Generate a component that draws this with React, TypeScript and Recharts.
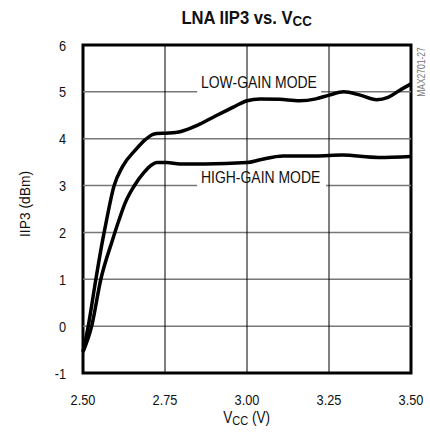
import React from "react";
import {
  LineChart,
  Line,
  XAxis,
  YAxis,
  ReferenceLine,
  ReferenceArea,
} from "recharts";

const lowGainVcc = [2.5, 2.516, 2.539, 2.56, 2.572, 2.594, 2.62, 2.66, 2.69, 2.709, 2.725, 2.76, 2.796, 2.85, 2.9, 2.96, 3.0, 3.04, 3.1, 3.16, 3.21, 3.25, 3.295, 3.345, 3.395, 3.43, 3.465, 3.5];
const lowGainIip3 = [-0.55, 0.0, 0.99, 1.84, 2.27, 2.98, 3.4, 3.76, 3.98, 4.08, 4.11, 4.12, 4.15, 4.29, 4.47, 4.68, 4.81, 4.85, 4.84, 4.81, 4.85, 4.93, 5.0, 4.93, 4.83, 4.88, 5.03, 5.17];

const highGainVcc = [2.5, 2.5265, 2.554, 2.59, 2.61, 2.628, 2.655, 2.686, 2.709, 2.725, 2.755, 2.796, 2.87, 3.0, 3.04, 3.11, 3.21, 3.29, 3.4, 3.5];
const highGainIip3 = [-0.55, 0.0, 0.99, 1.84, 2.27, 2.62, 2.98, 3.28, 3.44, 3.49, 3.49, 3.46, 3.46, 3.49, 3.55, 3.63, 3.63, 3.65, 3.6, 3.62];

const xTicks = [2.5, 2.75, 3.0, 3.25, 3.5];
const yTicks = [-1, 0, 1, 2, 3, 4, 5, 6];

const lowData = lowGainVcc.map((v, i) => ({ vcc: v, iip3: lowGainIip3[i] }));
const highData = highGainVcc.map((v, i) => ({ vcc: v, iip3: highGainIip3[i] }));

const FONT = "'Liberation Sans', Arial, sans-serif";
const GRID = "#777";

// narrow Helvetica look: Liberation Sans squeezed horizontally
const XTick = ({ x, payload }: any) => (
  <text transform={`translate(${x},405) scale(0.85,1)`} textAnchor="middle" fontSize={15} fontFamily={FONT} fill="#111">
    {Number(payload.value).toFixed(2)}
  </text>
);

const YTick = ({ y, payload }: any) => (
  <text transform={`translate(66,${y + 5.5}) scale(0.85,1)`} textAnchor="end" fontSize={15} fontFamily={FONT} fill="#111">
    {payload.value}
  </text>
);

const narrow = (sx: number, origin = "left center"): React.CSSProperties => ({
  display: "inline-block",
  transform: `scaleX(${sx})`,
  transformOrigin: origin,
  whiteSpace: "nowrap",
});

export default function App() {
  return (
    <div style={{ position: "absolute", left: 0, top: 0, width: 430, height: 432, background: "#fff", fontFamily: FONT, color: "#111" }}>
      <LineChart width={430} height={432} margin={{ top: 45, right: 19, bottom: 29, left: 43 }}>
        <XAxis
          type="number"
          dataKey="vcc"
          domain={[2.5, 3.5]}
          ticks={xTicks}
          tick={<XTick />}
          tickLine={false}
          axisLine={false}
          height={30}
          allowDuplicatedCategory={false}
        />
        <YAxis
          type="number"
          dataKey="iip3"
          domain={[-1, 6]}
          ticks={yTicks}
          tick={<YTick />}
          tickLine={false}
          axisLine={false}
          width={40}
        />

        {/* horizontal grid, broken where the mode labels sit */}
        {[0, 1, 2, 4].map((y) => (
          <ReferenceLine key={y} y={y} stroke={GRID} strokeWidth={1.5} />
        ))}
        <ReferenceLine segment={[{ x: 2.5, y: 5 }, { x: 2.848, y: 5 }]} stroke={GRID} strokeWidth={1.5} />
        <ReferenceLine segment={[{ x: 3.226, y: 5 }, { x: 3.5, y: 5 }]} stroke={GRID} strokeWidth={1.5} />
        <ReferenceLine segment={[{ x: 2.5, y: 3 }, { x: 2.848, y: 3 }]} stroke={GRID} strokeWidth={1.5} />
        <ReferenceLine segment={[{ x: 3.241, y: 3 }, { x: 3.5, y: 3 }]} stroke={GRID} strokeWidth={1.5} />

        {[2.75, 3.0, 3.25].map((x) => (
          <ReferenceLine key={x} x={x} stroke="#000" strokeWidth={1} />
        ))}

        <Line data={lowData} dataKey="iip3" type="monotone" stroke="#000" strokeWidth={3.5} dot={false} isAnimationActive={false} />
        <Line data={highData} dataKey="iip3" type="monotone" stroke="#000" strokeWidth={3.5} dot={false} isAnimationActive={false} />

        <ReferenceArea x1={2.5} x2={3.5} y1={-1} y2={6} fill="none" stroke="#000" strokeWidth={3} />
      </LineChart>

      <div style={{ position: "absolute", left: 0, width: 494, top: 8, textAlign: "center", fontWeight: "bold", fontSize: 17.5 }}>
        <span style={narrow(0.95, "center")}>
          LNA IIP3 vs. V<span style={{ fontSize: 14, position: "relative", top: 2 }}>CC</span>
        </span>
      </div>
      <div style={{ position: "absolute", left: 201, top: 73, fontSize: 17 }}>
        <span style={narrow(0.82)}>LOW-GAIN MODE</span>
      </div>
      <div style={{ position: "absolute", left: 201, top: 168, fontSize: 17 }}>
        <span style={narrow(0.82)}>HIGH-GAIN MODE</span>
      </div>
      <div style={{ position: "absolute", left: 0, width: 494, top: 409, textAlign: "center", fontSize: 16 }}>
        <span style={narrow(0.85, "center")}>
          V<span style={{ fontSize: 13, position: "relative", top: 2 }}>CC</span> (V)
        </span>
      </div>
      <div
        style={{
          position: "absolute",
          left: 24,
          top: 204,
          fontSize: 15,
          whiteSpace: "nowrap",
          transform: "translate(-50%, -50%) rotate(-90deg) scaleX(0.92)",
        }}
      >
        IIP3 (dBm)
      </div>
      <div
        style={{
          position: "absolute",
          left: 421,
          top: 72,
          fontSize: 10,
          color: "#777",
          whiteSpace: "nowrap",
          transform: "translate(-50%, -50%) rotate(-90deg) scaleX(0.85)",
        }}
      >
        MAX2701-27
      </div>
    </div>
  );
}
